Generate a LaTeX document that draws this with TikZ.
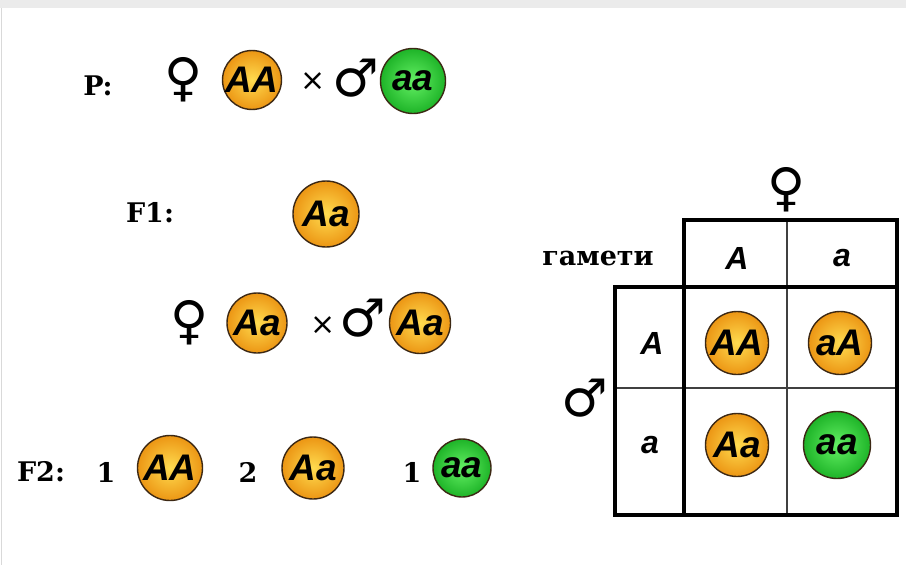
\documentclass[tikz,border=0pt]{standalone}
\usepackage{fontspec}
\setmainfont{DejaVu Serif}
\newfontfamily\genofont{Liberation Sans}
\newfontfamily\symfont{DejaVu Sans}
\definecolor{orgout}{RGB}{236,150,20}
\definecolor{orgin}{RGB}{255,220,80}
\definecolor{grnout}{RGB}{30,180,40}
\definecolor{grnin}{RGB}{100,240,100}
\definecolor{edge}{RGB}{60,40,20}

\begin{document}
\begin{tikzpicture}[x=1pt,y=-1pt,
  dom/.style={circle,draw=edge,line width=1.4pt,inner sep=0pt,minimum size=#1,
    inner color=orgin,outer color=orgout,
    font=\genofont\bfseries\itshape\fontsize{37}{37}\selectfont},
  rec/.style={dom=#1,inner color=grnin,outer color=grnout},
  gen/.style={font=\bfseries\fontsize{27}{27}\selectfont},
  sym/.style={font=\symfont\fontsize{52}{52}\selectfont},
  cross/.style={font=\symfont\fontsize{30}{30}\selectfont},
  allele/.style={font=\genofont\bfseries\itshape\fontsize{32}{32}\selectfont},
  frame/.style={line width=4.5pt},
  grid/.style={line width=1.4pt,black!75}]
  \useasboundingbox[fill=white] (0,0) rectangle (906,565);
  \fill[black!8] (0,0) rectangle (906,8);
  \draw[black!15,line width=1pt] (1,8) -- (1,565);
  % parents
  \node[gen] (pLbl) at (98,86) {P:};
  \node[sym] (pFem) at (184,80) {♀};
  \node[dom=58] (pAA) at (252,80) {AA};
  \node[cross] (pX) at (313,82) {×};
  \node[sym] (pMale) at (356,78) {♂};
  \node[rec=65] (paa) at (413,81) {aa};
  % first generation
  \node[gen] (fLbl) at (150,213) {F1:};
  \node[dom=66] (fAa) at (326,214) {Aa};
  % crossing of F1
  \node[sym] (cFem) at (190,323) {♀};
  \node[dom=60] (cAa1) at (257,323) {Aa};
  \node[cross] (cX) at (323,326) {×};
  \node[sym] (cMale) at (363,318) {♂};
  \node[dom=61] (cAa2) at (420,323) {Aa};
  % second generation
  \node[gen] (sLbl) at (41,472) {F2:};
  \node[gen] (sN1) at (106,472) {1};
  \node[dom=65] (sAA) at (170,468) {AA};
  \node[gen] (sN2) at (248,472) {2};
  \node[dom=62] (sAa) at (313,468) {Aa};
  \node[gen] (sN3) at (412,472) {1};
  \node[rec=58] (saa) at (462,468) {aa};
  % punnett square
  \draw[grid] (787,220) -- (787,515);
  \draw[grid] (615,388) -- (897,388);
  \draw[frame] (684,220) rectangle (897,287);
  \draw[frame] (615,287) rectangle (897,515);
  \draw[frame] (684,287) -- (684,515);
  \node[sym] (tFem) at (787,190) {♀};
  \node[gen] (tGam) at (598,258) {гамети};
  \node[allele] (hA) at (737,258) {A};
  \node[allele] (ha) at (842,258) {a};
  \node[sym] (tMale) at (585,398) {♂};
  \node[allele] (rA) at (652,343) {A};
  \node[allele] (ra) at (650,445) {a};
  \node[dom=63] (qAA) at (737,343) {AA};
  \node[dom=63] (qaA) at (840,343) {aA};
  \node[dom=63] (qAa) at (737,445) {Aa};
  \node[rec=67] (qaa) at (837,445) {aa};
\end{tikzpicture}
\end{document}
